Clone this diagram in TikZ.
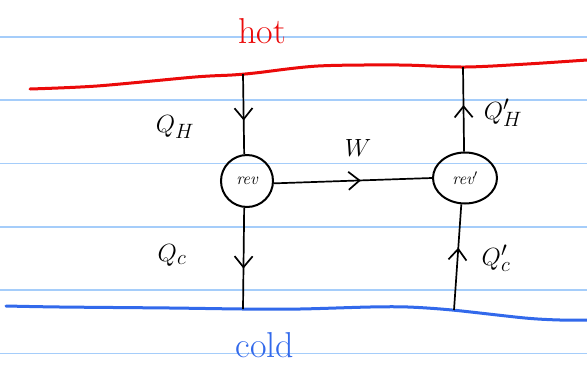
\documentclass[tikz,border=0pt]{standalone}
\usetikzlibrary{arrows.meta,decorations.markings,shapes.geometric}
\definecolor{ruleblue}{RGB}{165,205,250}
\definecolor{hotred}{RGB}{235,10,10}
\definecolor{coldblue}{RGB}{50,105,235}
\begin{document}
\begin{tikzpicture}[x=1pt,y=-1pt,
  rule/.style={draw=ruleblue,line width=1.6pt},
  ink/.style={draw=black,line width=1.7pt},
  midarrow/.style={postaction={decorate},decoration={markings,mark=at position #1 with {\arrow{Straight Barb[length=11pt,width=18pt,line width=1.7pt]}}}},
  engine/.style={draw=black,line width=2pt,inner sep=0pt,font=\fontsize{17}{17}\selectfont\itshape},
  lab/.style={font=\fontsize{28}{30}\selectfont},
  word/.style={font=\fontsize{36}{38}\selectfont}
]
\fill[white] (0,0) rectangle (587,368);
\useasboundingbox (0,0) rectangle (587,368);
% ruled paper
\foreach \yy in {36.7,100,163.3,226.7,290,353.3}
  \draw[rule] (0,\yy) -- (587,\yy);
% reservoirs
\draw[hotred,line width=3pt,line cap=round] plot[smooth] coordinates {(30,89) (97,86) (195,77) (232,75) (255,73) (318,66) (400,65) (465,67) (527,64) (587,60)};
\draw[coldblue,line width=3pt,line cap=round] plot[smooth] coordinates {(6,306) (60,307) (170,308) (243,309) (300,309) (370,307) (408,307) (452,310) (525,318) (560,320) (587,320)};
\node[word,text=hotred] (hot) at (262,31) {hot};
\node[word,text=coldblue] (cold) at (265,345) {cold};
% anchor points on the reservoirs
\coordinate (h1) at (243,74);
\coordinate (h2) at (463,67);
\coordinate (c1) at (243,309);
\coordinate (c2) at (454,310);
% engines
\node[engine,circle,minimum size=52pt] (rev) at (247,181) {rev};
\node[engine,ellipse,minimum width=64pt,minimum height=51pt] (revp) at (465,178) {rev$'$};
% connectors
\draw[ink,midarrow=0.58] (h1) -- (rev.96);
\draw[ink,midarrow=0.6] (rev.264) -- (c1);
\draw[ink,midarrow=0.55] (revp.92) -- (h2);
\draw[ink,midarrow=0.59] (c2) -- (revp.262);
\draw[ink,midarrow=0.55] (rev.-5) -- (revp.180);
% labels
\node[lab] (qh) at (175,127) {$Q_H$};
\node[lab] (qhp) at (503,113) {$Q_H'$};
\node[lab] (qc) at (172,255) {$Q_c$};
\node[lab] (qcp) at (496,258) {$Q_c'$};
\node[lab] (w) at (358,148) {$W$};
\end{tikzpicture}
\end{document}
